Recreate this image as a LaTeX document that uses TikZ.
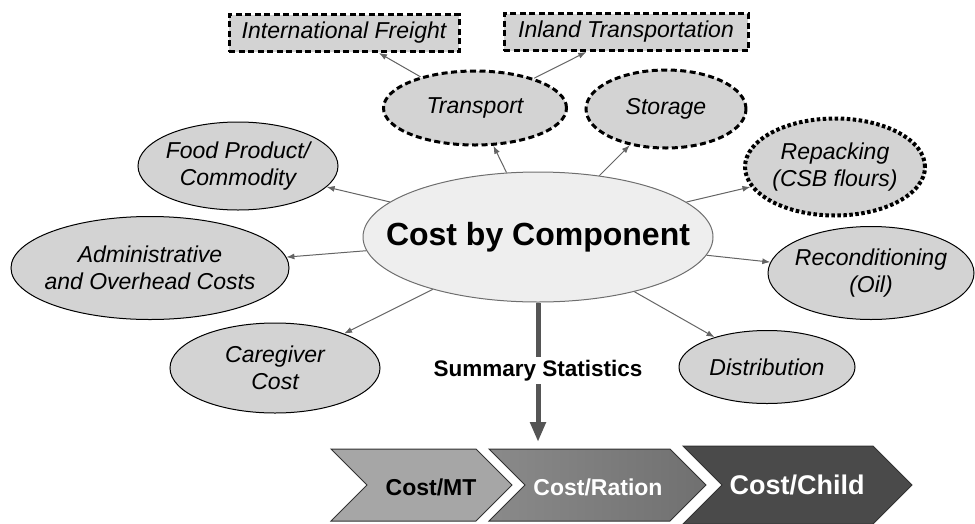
\documentclass[tikz,border=0pt]{standalone}
\usepackage{fontspec}
\setmainfont{Liberation Sans}
\usepackage{tikz}
\usetikzlibrary{shapes.geometric, arrows.meta}
\newcommand{\costchevron}[5]{
	\pgfmathsetmacro{\chevmid}{(#3+#4)/2} % height of the tip
	\pgfmathsetmacro{\chevdepth}{(#4-#3)/2} % depth of the tip and of the notch
	
	\path[#5] (#1,#3) -- (#2-\chevdepth,#3) -- (#2,\chevmid) -- (#2-\chevdepth,#4) -- (#1,#4) -- (#1+\chevdepth,\chevmid) -- cycle;
}
\definecolor{leafgray}{RGB}{211,211,211}
\definecolor{hubgray}{RGB}{238,238,238}
\definecolor{hubline}{RGB}{110,110,110}
\definecolor{linkgray}{RGB}{100,100,100}
\definecolor{sumgray}{RGB}{85,85,85}
\definecolor{chevlight}{RGB}{166,166,166}
\definecolor{chevmidA}{RGB}{138,138,138}
\definecolor{chevmidB}{RGB}{112,112,112}
\definecolor{chevdark}{RGB}{74,74,74}
\definecolor{chevline}{RGB}{50,50,50}

\begin{document}
\begin{tikzpicture}[x=1pt,y=-1pt,
	every node/.style={font=\fontsize{23}{27}\selectfont\itshape, align=center, text=black},
	hub/.style={ellipse, draw=hubline, line width=1pt, fill=hubgray, inner sep=-30pt, font=\fontsize{32}{36}\selectfont\bfseries},
	plainleaf/.style={ellipse, draw=black, line width=1pt, fill=leafgray, inner sep=-12pt},
	dashleaf/.style={ellipse, draw=black, line width=3pt, dash pattern=on 6pt off 3.5pt, fill=leafgray, inner sep=-12pt},
	dotleaf/.style={ellipse, draw=black, line width=4pt, dash pattern=on 3.5pt off 2.5pt, fill=leafgray, inner sep=-12pt},
	dashbox/.style={rectangle, draw=black, line width=3pt, dash pattern=on 6pt off 3.5pt, fill=leafgray, inner sep=0pt},
	link/.style={draw=linkgray, line width=1pt, -{Latex[length=8pt,width=6pt]}},
	sumarrow/.style={draw=sumgray, line width=5pt, -{Triangle[length=20pt,width=15pt]}},
	sumlabel/.style={fill=white, inner sep=3pt, font=\fontsize{22.5}{25}\selectfont\bfseries},
	chevtext/.style={inner sep=0pt, font=\fontsize{23}{26}\selectfont\bfseries}]
	\useasboundingbox (0,0) rectangle (975,523);
	
	% the hub and the components round it
	\node[hub, minimum width=350pt, minimum height=130pt] (centre) at (538,237) {Cost by Component};
	
	\node[dashleaf, minimum width=183pt, minimum height=74pt] (transport) at (475,108) {Transport};
	\node[dashleaf, minimum width=160pt, minimum height=78pt] (storage) at (666,109) {Storage};
	\node[dashbox, minimum width=230pt, minimum height=37pt] (intlfreight) at (344,33) {International Freight};
	\node[dashbox, minimum width=244pt, minimum height=37pt] (inland) at (626,32) {Inland Transportation};
	\node[dotleaf, minimum width=180pt, minimum height=97pt] (repacking) at (835,167) {Repacking\\(CSB flours)};
	\node[plainleaf, minimum width=206pt, minimum height=93pt] (recond) at (871,273) {Reconditioning\\(Oil)};
	\node[plainleaf, minimum width=176pt, minimum height=73pt] (distribution) at (767,367) {Distribution};
	\node[plainleaf, minimum width=210pt, minimum height=90pt] (caregiver) at (275,368) {Caregiver\\Cost};
	\node[plainleaf, minimum width=278pt, minimum height=103pt] (admin) at (150,268) {Administrative\\and Overhead Costs};
	\node[plainleaf, minimum width=200pt, minimum height=88pt] (food) at (238,166) {Food Product/\\Commodity};
	
	% connectors
	\foreach \leaf in {transport, storage, repacking, recond, distribution, caregiver, admin, food}
		\draw[link] (centre) -- (\leaf);
	\draw[link] (transport) -- (intlfreight);
	\draw[link] (transport) -- (inland);
	
	% summary statistics
	\coordinate (sumtip) at (538,442);
	\draw[sumarrow] (centre) -- node[sumlabel, pos=0.49] (sumstats) {Summary Statistics} (sumtip);
	
	\costchevron{331}{512}{449}{521}{fill=chevlight, draw=chevline, line width=1pt}
	\costchevron{489}{706}{449}{521}{left color=chevmidA, right color=chevmidB, draw=chevline, line width=1pt}
	\costchevron{683}{912}{446}{524}{fill=chevdark, draw=chevline, line width=1pt}
	\node[chevtext, text=black] (permt) at (431,487) {Cost/MT};
	\node[chevtext, text=white] (perration) at (598,487) {Cost/Ration};
	\node[chevtext, text=white, font=\fontsize{27}{30}\selectfont\bfseries] (perchild) at (797,485) {Cost/Child};
\end{tikzpicture}
\end{document}
